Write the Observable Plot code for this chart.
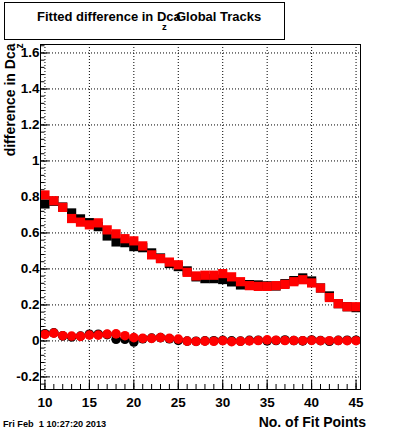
<!DOCTYPE html>
<html><head><meta charset="utf-8">
<script src="https://cdn.jsdelivr.net/npm/d3@7"></script>
<script src="https://cdn.jsdelivr.net/npm/@observablehq/plot@0.6"></script>
<style>body{margin:0;background:#fff;} #chart{width:400px;height:433px;}</style>
</head><body><div id="chart"></div>
<script>
const fitPoints = [10,11,12,13,14,15,16,17,18,19,20,21,22,23,24,25,26,27,28,29,30,31,32,33,34,35,36,37,38,39,40,41,42,43,44,45];
const redSquares = [0.811,0.779,0.742,0.680,0.660,0.645,0.656,0.617,0.595,0.568,0.556,0.528,0.478,0.457,0.438,0.423,0.381,0.361,0.365,0.365,0.374,0.356,0.329,0.307,0.303,0.303,0.307,0.314,0.329,0.340,0.322,0.294,0.241,0.207,0.190,0.190];
const blackSquares = [0.761,0.776,0.744,0.711,0.678,0.657,0.635,0.583,0.550,0.546,0.524,0.518,0.489,0.461,0.430,0.413,0.389,0.356,0.346,0.346,0.341,0.328,0.311,0.313,0.311,0.306,0.305,0.318,0.335,0.350,0.333,0.294,0.250,0.207,0.190,0.185];
const redCircles = [0.036,0.043,0.029,0.027,0.025,0.032,0.032,0.038,0.039,0.029,0.018,0.014,0.014,0.018,0.014,0.010,-0.001,-0.003,-0.001,-0.002,0.001,-0.004,-0.002,0.000,0.002,0.006,0.004,0.002,0.002,0.001,0.003,0.001,0.001,0.002,0.001,0.001];
const blackCircles = [0.040,0.045,0.028,0.022,0.027,0.037,0.037,0.035,0.009,0.009,-0.006,0.012,0.016,0.018,0.012,0.003,-0.001,-0.002,0.000,0.001,0.003,0.000,-0.001,0.003,0.004,0.000,0.002,0.005,0.002,0.000,0.005,0.002,-0.002,0.003,0.004,0.004];
const xTicks = [10,15,20,25,30,35,40,45];
const yTicks = [-0.2,0,0.2,0.4,0.6,0.8,1,1.2,1.4,1.6];
const xMinorTicks = fitPoints;
const yMinorTicks = d3.range(-6, 42).map(i => i * 0.04);

const W = 400, H = 433, mT = 44, mB = 44, mL = 40, mR = 40;
const frameH = H - mT - mB, frameW = W - mL - mR;
const font = "'Liberation Sans', Arial, Helvetica, sans-serif";

const chart = Plot.plot({
  width: W, height: H,
  marginTop: mT, marginBottom: mB, marginLeft: mL, marginRight: mR,
  style: {fontFamily: font, background: "white", color: "black"},
  x: {domain: [9.5, 45.5]},
  y: {domain: [-0.27, 1.647]},
  marks: [
    Plot.ruleX(xTicks, {x: d => d, stroke: "black", strokeDasharray: "1,2"}),
    Plot.ruleY(yTicks, {y: d => d, stroke: "black", strokeDasharray: "1,2"}),
    Plot.tickX(xMinorTicks, {x: d => d, insetTop: frameH - 5, stroke: "black"}),
    Plot.tickX(xTicks, {x: d => d, insetTop: frameH - 9.5, stroke: "black"}),
    Plot.tickY(yMinorTicks, {y: d => d, insetRight: frameW - 4.5, stroke: "black"}),
    Plot.tickY(yTicks, {y: d => d, insetRight: frameW - 9, stroke: "black"}),
    Plot.dot(fitPoints, {x: d => d, y: (d, i) => blackSquares[i], symbol: "square", r: 5.2, fill: "black"}),
    Plot.dot(fitPoints, {x: d => d, y: (d, i) => redSquares[i], symbol: "square", r: 5.2, fill: "red"}),
    Plot.dot(fitPoints, {x: d => d, y: (d, i) => blackCircles[i], r: 4.8, fill: "black"}),
    Plot.dot(fitPoints, {x: d => d, y: (d, i) => redCircles[i], r: 4.8, fill: "red"}),
    Plot.frame({stroke: "black"}),
    Plot.axisX({ticks: xTicks, tickSize: 0, tickPadding: 8, fontSize: 13.5, fontWeight: "bold", label: null, tickFormat: d => String(d)}),
    Plot.axisY({ticks: yTicks, tickSize: 0, tickPadding: 1, fontSize: 13.5, fontWeight: "bold", label: null, tickFormat: d => String(d)})
  ]
});
document.getElementById("chart").appendChild(chart);

const svg = d3.select(chart);
const g = svg.append("g").attr("font-family", font).attr("fill", "black").attr("text-anchor", "start");
// title box
g.append("rect").attr("x", 4.5).attr("y", 2.5).attr("width", 280).attr("height", 37)
  .attr("fill", "white").attr("stroke", "black");
g.append("text").attr("x", 37).attr("y", 21).attr("font-size", 13).attr("font-weight", "bold")
  .attr("text-anchor", "start").text("Fitted difference in Dca");
g.append("text").attr("x", 162).attr("y", 29.5).attr("font-size", 9.5).attr("font-weight", "bold")
  .attr("text-anchor", "start").text("z");
g.append("text").attr("x", 176).attr("y", 21).attr("font-size", 13).attr("font-weight", "bold")
  .attr("text-anchor", "start").text("Global Tracks");
// y label
g.append("text").attr("transform", "translate(15,43.5) rotate(-90)").attr("text-anchor", "end")
  .attr("font-size", 14).attr("font-weight", "bold").text("difference in Dca");
g.append("text").attr("transform", "translate(23,48.5) rotate(-90)").attr("text-anchor", "start")
  .attr("font-size", 10).attr("font-weight", "bold").text("z");
// x label
g.append("text").attr("x", 366).attr("y", 426.5).attr("text-anchor", "end")
  .attr("font-size", 14).attr("font-weight", "bold").text("No. of Fit Points");
// date stamp
g.append("text").attr("x", 3).attr("y", 426.5).attr("font-size", 9.2).attr("font-weight", "bold")
  .attr("text-anchor", "start").style("white-space", "pre").text("Fri Feb  1 10:27:20 2013");
</script>
</body></html>
